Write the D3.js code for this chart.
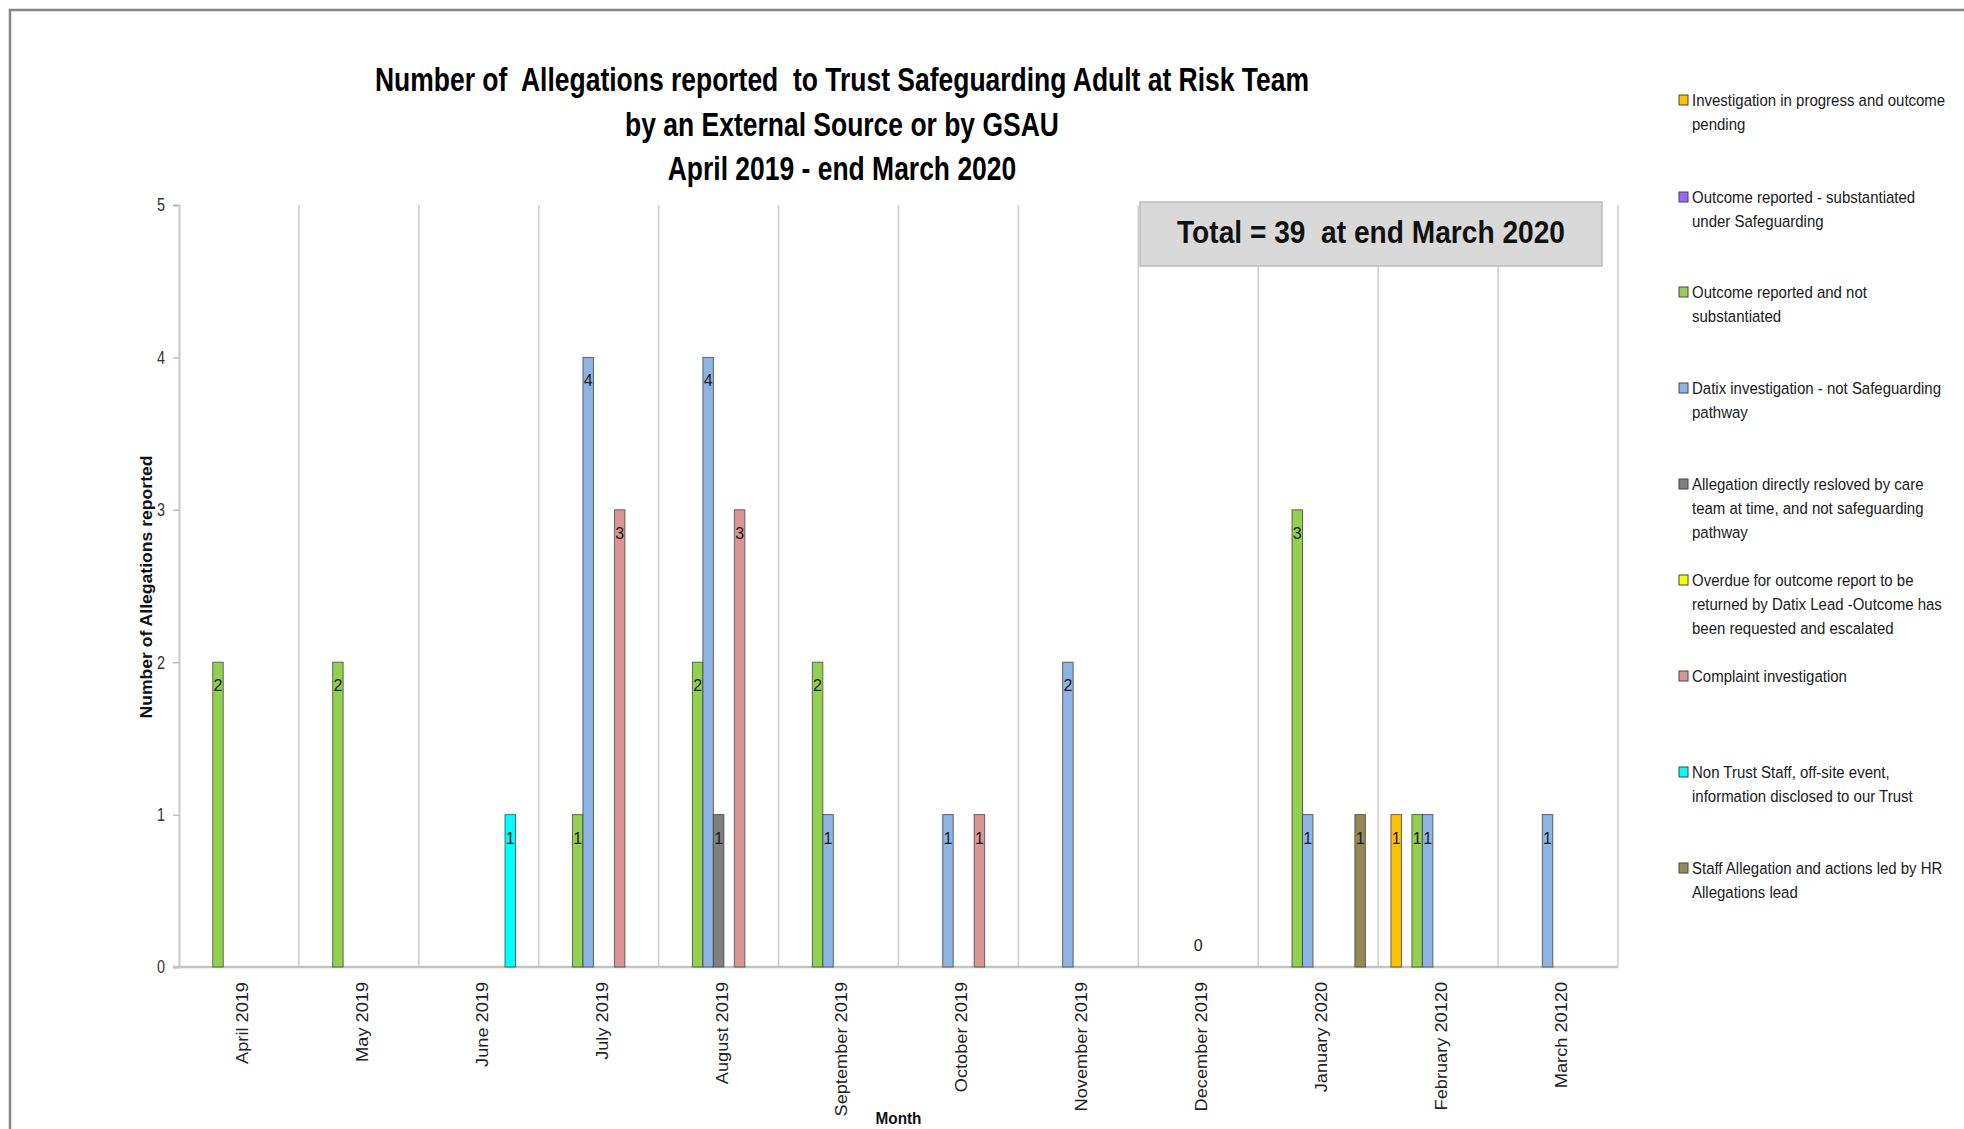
<!DOCTYPE html>
<html>
<head>
<meta charset="utf-8">
<script src="https://cdn.jsdelivr.net/npm/d3@7"></script>
<style>
  body { margin: 0; background: #fff; }
  text { font-family: "Liberation Sans", Arial, sans-serif; white-space: pre; }
  .narrow { font-family: "Liberation Sans Narrow", "Liberation Sans", Arial, sans-serif; }
</style>
</head>
<body>
<svg id="chart" width="1964" height="1129"></svg>
<script>
// ---- Data -------------------------------------------------------------
const months = ["April 2019", "May 2019", "June 2019", "July 2019", "August 2019",
  "September 2019", "October 2019", "November 2019", "December 2019",
  "January 2020", "February 20120", "March 20120"];

const seriesKeys = ["pending", "substantiated", "notSubstantiated", "datix",
  "resolvedByCare", "overdue", "complaint", "nonTrust", "staffHR"];

const seriesLabels = [
  ["Investigation in progress and outcome", "pending"],
  ["Outcome reported - substantiated", "under Safeguarding"],
  ["Outcome reported and not", "substantiated"],
  ["Datix investigation - not Safeguarding", "pathway"],
  ["Allegation directly resloved by care", "team at time, and not safeguarding", "pathway"],
  ["Overdue for outcome report to be", "returned by Datix Lead -Outcome has", "been requested and escalated"],
  ["Complaint investigation"],
  ["Non Trust Staff, off-site event,", "information disclosed to our Trust"],
  ["Staff Allegation and actions led by HR", "Allegations lead"]
];

const seriesColors = ["#FFC000", "#9966FF", "#92D050", "#8DB4E2", "#808080",
  "#FFFF00", "#DA9694", "#00FFFF", "#948A54"];

// monthly counts per category (null = nothing recorded)
const pending          = [null, null, null, null, null, null, null, null, null, null, 1, null];
const substantiated    = [null, null, null, null, null, null, null, null, null, null, null, null];
const notSubstantiated = [2, 2, null, 1, 2, 2, null, null, null, 3, 1, null];
const datix            = [null, null, null, 4, 4, 1, 1, 2, null, 1, 1, 1];
const resolvedByCare   = [null, null, null, null, 1, null, null, null, 0, null, null, null];
const overdue          = [null, null, null, null, null, null, null, null, null, null, null, null];
const complaint        = [null, null, null, 3, 3, null, 1, null, null, null, null, null];
const nonTrust         = [null, null, 1, null, null, null, null, null, null, null, null, null];
const staffHR          = [null, null, null, null, null, null, null, null, null, 1, null, null];

const seriesValues = [pending, substantiated, notSubstantiated, datix,
  resolvedByCare, overdue, complaint, nonTrust, staffHR];

const yTicks = [0, 1, 2, 3, 4, 5];

const titleLines = [
  "Number of  Allegations reported  to Trust Safeguarding Adult at Risk Team",
  "by an External Source or by GSAU",
  "April 2019 - end March 2020"
];
const totalText = "Total = 39  at end March 2020";
const yTitle = "Number of Allegations reported";
const xTitle = "Month";

// ---- Helpers ----------------------------------------------------------
function fitTo(node, width) {
  node.setAttribute("textLength", width);
  node.setAttribute("lengthAdjust", "spacingAndGlyphs");
}
function scaleLen(node, k) {
  fitTo(node, node.getComputedTextLength() * k);
}

// ---- Chart ------------------------------------------------------------
const svg = d3.select("#chart");

// outer frame
svg.append("path")
  .attr("d", "M10,1129 V10 H1964")
  .attr("fill", "none")
  .attr("stroke", "#858585")
  .attr("stroke-width", 2.5);

const plotLeft = 179, plotRight = 1618, plotTop = 205, plotBottom = 967;

const x0 = d3.scaleBand().domain(months).range([plotLeft, plotRight]).padding(0);
const x1 = d3.scaleBand().domain(seriesKeys).range([0, x0.bandwidth()])
  .paddingInner(0).paddingOuter(1.22);
const y = d3.scaleLinear().domain([0, 5]).range([plotBottom, plotTop]);

// vertical category separators
const bounds = months.map(m => x0(m)).concat([plotRight]);
svg.append("g").selectAll("line").data(bounds.slice(1)).join("line")
  .attr("x1", d => d).attr("x2", d => d)
  .attr("y1", y(5)).attr("y2", y(0))
  .attr("stroke", "#cfcfcf").attr("stroke-width", 1.6);

// y axis
const yAxis = svg.append("g")
  .attr("transform", `translate(${plotLeft},0)`)
  .call(d3.axisLeft(y).tickValues(yTicks).tickFormat(d3.format("d")).tickSize(6).tickPadding(8));
yAxis.select(".domain").attr("stroke", "#c8c8c8").attr("stroke-width", 2);
yAxis.selectAll(".tick line").attr("stroke", "#b0b0b0").attr("stroke-width", 1.2);
// slightly tall digits, centred on their ticks
yAxis.selectAll(".tick text")
  .attr("font-size", 16).attr("fill", "#333")
  .style("font-family", "'Liberation Sans', Arial, sans-serif")
  .attr("transform", "scale(0.9,1.15)")
  .attr("x", -14 / 0.9).attr("y", 0).attr("dy", "0.32em");

// x axis (baseline + rotated month labels)
const xAxis = svg.append("g")
  .attr("transform", `translate(0,${plotBottom})`)
  .call(d3.axisBottom(x0).tickSize(0).tickPadding(0));
xAxis.select(".domain").attr("stroke", "#c4c4c4").attr("stroke-width", 2.5)
  .attr("d", `M${plotLeft - 6},0H${plotRight}`);
xAxis.selectAll(".tick text")
  .attr("font-size", 17).attr("fill", "#222")
  .style("font-family", "'Liberation Sans', Arial, sans-serif")
  .attr("text-anchor", "end")
  .attr("transform", "translate(3,15) rotate(-90)")
  .attr("x", 0).attr("y", 0).attr("dy", "0.35em")
  .each(function() { scaleLen(this, 1.07); });

// bars
const barData = [];
seriesKeys.forEach((key, si) => {
  seriesValues[si].forEach((v, mi) => {
    if (v !== null) barData.push({ key, si, month: months[mi], value: v });
  });
});

const bars = svg.append("g");
bars.selectAll("rect").data(barData.filter(d => d.value > 0)).join("rect")
  .attr("x", d => x0(d.month) + x1(d.key))
  .attr("y", d => y(d.value))
  .attr("width", x1.bandwidth())
  .attr("height", d => y(0) - y(d.value))
  .attr("fill", d => seriesColors[d.si])
  .attr("stroke", "#3c3c3c")
  .attr("stroke-opacity", 0.75)
  .attr("stroke-width", 1);

// value labels, inside the end of each bar
bars.selectAll("text").data(barData).join("text")
  .attr("x", d => x0(d.month) + x1(d.key) + x1.bandwidth() / 2)
  .attr("y", d => d.value > 0 ? y(d.value) + 29 : y(0) - 16)
  .attr("text-anchor", "middle")
  .attr("font-size", 16)
  .attr("fill", "#1a1a1a")
  .text(d => d.value);

// total annotation box
const totalG = svg.append("g");
totalG.append("rect")
  .attr("x", 1140).attr("y", 202).attr("width", 462).attr("height", 64)
  .attr("fill", "#d9d9d9").attr("stroke", "#bdbdbd").attr("stroke-width", 1.5);
totalG.append("text")
  .attr("class", "narrow")
  .attr("x", 1371).attr("y", 243)
  .attr("text-anchor", "middle")
  .attr("font-size", 31).attr("font-weight", "bold").attr("fill", "#111")
  .text(totalText)
  .each(function() { fitTo(this, 388); });

// chart title
const titleG = svg.append("g");
const titleY = [91, 136, 180];
const titleNodes = titleG.selectAll("text").data(titleLines).join("text")
  .attr("class", "narrow")
  .attr("x", 842).attr("y", (d, i) => titleY[i])
  .attr("text-anchor", "middle")
  .attr("font-size", 33).attr("font-weight", "bold").attr("fill", "#000")
  .text(d => d);
const tK = 934 / titleNodes.node().getComputedTextLength();
titleNodes.each(function() { scaleLen(this, tK); });

// axis titles
svg.append("text")
  .attr("class", "narrow")
  .attr("transform", `translate(146,${(y(0) + y(5)) / 2 + 1}) rotate(-90)`)
  .attr("text-anchor", "middle").attr("dy", "0.35em")
  .attr("font-size", 16).attr("font-weight", "bold").attr("fill", "#111")
  .text(yTitle)
  .each(function() { fitTo(this, 263); });

svg.append("text")
  .attr("class", "narrow")
  .attr("x", (plotLeft + plotRight) / 2).attr("y", 1124)
  .attr("text-anchor", "middle")
  .attr("font-size", 16).attr("font-weight", "bold").attr("fill", "#111")
  .text(xTitle)
  .each(function() { fitTo(this, 46); });

// legend: entries with wrapped labels, glyphs drawn a little taller than wide
const legendTop = [100, 197, 292, 388, 484, 580, 676, 772, 868];
const stretchY = 1.12;
const legend = svg.append("g");
const items = legend.selectAll("g").data(seriesLabels).join("g")
  .attr("transform", (d, i) => `translate(1679,${legendTop[i]})`);
items.append("rect")
  .attr("x", 0).attr("y", -5).attr("width", 9).attr("height", 10)
  .attr("fill", (d, i) => seriesColors[i])
  .attr("stroke", "#444").attr("stroke-width", 1);
const legendText = items.append("text")
  .attr("class", "narrow")
  .attr("transform", `scale(1,${stretchY})`)
  .attr("x", 13).attr("y", 0)
  .attr("font-size", 15).attr("fill", "#1a1a1a");
legendText.selectAll("tspan").data(d => d).join("tspan")
  .attr("x", 13).attr("dy", (d, i) => i === 0 ? "0.35em" : 24 / stretchY)
  .text(d => d);
// keep the longest line inside the frame
const refLen = legendText.select("tspan").node().getComputedTextLength();
const lK = Math.min(1, 255 / refLen);
legendText.selectAll("tspan").each(function() { scaleLen(this, lK); });
</script>
</body>
</html>
